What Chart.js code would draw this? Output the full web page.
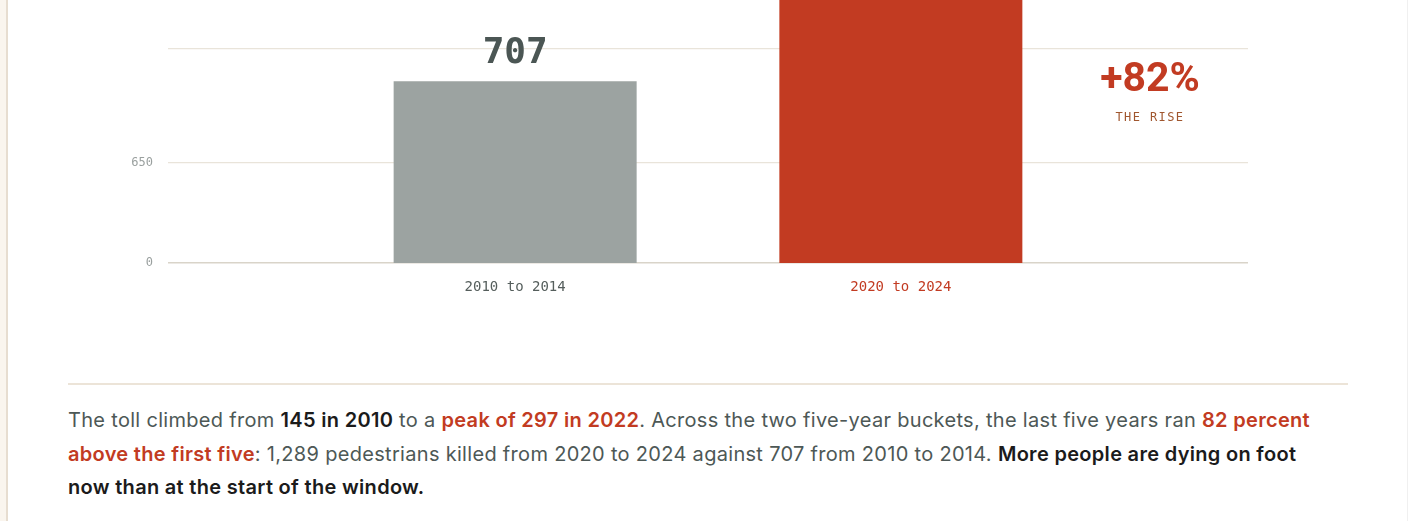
<!DOCTYPE html>
<html>
<head>
<meta charset="utf-8">
<script src="https://cdn.jsdelivr.net/npm/chart.js@4.4.1/dist/chart.umd.min.js"></script>
<style>
  html, body { margin: 0; padding: 0; background: #ffffff; width: 1408px; height: 521px; overflow: hidden; }
  #strip { position: absolute; left: 0; top: 0; width: 6px; height: 521px; background: #faf5ee; border-right: 2px solid #e7ddd0; }
  #redge { position: absolute; left: 1407px; top: 0; width: 1px; height: 521px; background: #f0f0f0; }
  #chartWrap { position: absolute; left: 0; top: 0; width: 1408px; height: 310px; }
  #rise { position: absolute; left: 1050px; width: 200px; top: 52px; text-align: center; }
  #riseNum { font-family: Roboto, "Noto Sans", sans-serif; font-weight: 700; font-size: 41px; line-height: 50px; color: #c23b22; }
  #riseLbl { font-family: "DejaVu Sans Mono", monospace; font-size: 12px; letter-spacing: 1.4px; color: #a0562e; margin-top: 8px; }
  #divider { position: absolute; left: 68px; top: 383px; width: 1280px; height: 2px; background: #ece4d8; }
  #para { position: absolute; left: 68px; top: 404px; font-family: Inter, "Noto Sans", sans-serif; font-size: 20px; line-height: 33.5px; color: #4d5856; white-space: nowrap; }
  #para .ln { display: block; }
  #para .ln span.m { display: inline-block; }
  #para b { color: #1b1b1b; font-weight: 600; }
  #para .r { color: #c23b22; font-weight: 600; }
</style>
</head>
<body>
<div id="strip"></div>
<div id="redge"></div>
<div id="chartWrap"><canvas id="c"></canvas></div>
<div id="rise"><div id="riseNum"></div><div id="riseLbl">THE RISE</div></div>
<div id="divider"></div>
<div id="para"><span class="ln"><span class="m" id="l1">The toll climbed from <b>145 in 2010</b> to a <span class="r">peak of 297 in 2022</span>. Across the two five-year buckets, the last five years ran <span class="r">82 percent</span></span></span><span class="ln"><span class="m"><span class="r">above the first five</span>: 1,289 pedestrians killed from 2020 to 2024 against 707 from 2010 to 2014. <b>More people are dying on foot</b></span></span><span class="ln"><span class="m"><b>now than at the start of the window.</b></span></span></div>
<script>
// ---- data ----
const categories = ['2010 to 2014', '2020 to 2024'];
const deaths = [707, 1289];
const yTickValues = [0, 650];
const yAxisTop = 1392;      // visible axis top (max * 1.08)
const barAxisTop = 833;     // axis the bars are drawn against
const barColors = ['#9ca3a1', '#c23b22'];
const labelColors = ['#4b5654', '#c23b22'];
const tickColors = ['#555e5c', '#c23b22'];

const rise = Math.round((deaths[1] - deaths[0]) / deaths[0] * 100);
document.getElementById('riseNum').textContent = '+' + rise + '%';

// fit paragraph first line to the reference measure
(function () {
  const para = document.getElementById('para');
  const l1 = document.getElementById('l1');
  const target = 1242;
  const n = l1.textContent.length;
  const w = l1.getBoundingClientRect().width;
  para.style.letterSpacing = ((target - w) / n).toFixed(3) + 'px';
})();

const valueLabels = {
  id: 'valueLabels',
  afterDatasetsDraw(chart) {
    const ctx = chart.ctx;
    const meta = chart.getDatasetMeta(0);
    ctx.save();
    ctx.font = 'bold 36px "DejaVu Sans Mono", monospace';
    ctx.textAlign = 'center';
    ctx.textBaseline = 'alphabetic';
    meta.data.forEach((bar, i) => {
      ctx.fillStyle = labelColors[i];
      ctx.fillText(String(deaths[i]), bar.x, bar.y - 18);
    });
    ctx.restore();
  }
};

new Chart(document.getElementById('c'), {
  type: 'bar',
  data: {
    datasets: [{
      data: deaths.map((v, i) => ({ x: i, y: v })),
      backgroundColor: barColors,
      borderWidth: 0,
      barPercentage: 0.7,
      categoryPercentage: 0.9,
      yAxisID: 'yb',
      clip: false
    }]
  },
  options: {
    responsive: true,
    maintainAspectRatio: false,
    animation: false,
    layout: { padding: { left: 100, right: 160, top: 49, bottom: 0 } },
    plugins: { legend: { display: false }, tooltip: { enabled: false } },
    scales: {
      x: {
        type: 'linear',
        offset: false,
        min: -0.9,
        max: 1.9,
        afterBuildTicks: s => { s.ticks = categories.map((c, i) => ({ value: i })); },
        afterFit: s => { s.height = 47; },
        grid: { display: false, drawTicks: false, offset: false },
        border: { display: false },
        ticks: {
          padding: 16,
          font: { family: '"DejaVu Sans Mono", monospace', size: 14 },
          color: ctx => tickColors[ctx.index] || '#555',
          callback: v => categories[v]
        }
      },
      y: {
        min: 0,
        max: yAxisTop,
        afterBuildTicks: s => { s.ticks = yTickValues.concat([yAxisTop]).map(v => ({ value: v })); },
        afterFit: s => { s.width = 68; },
        border: { display: false },
        grid: {
          drawTicks: false,
          color: ctx => ctx.tick && ctx.tick.value === 0 ? '#d9d4c9' : '#e9e4da',
          lineWidth: ctx => ctx.tick && ctx.tick.value === 0 ? 1.6 : 1.2
        },
        ticks: {
          padding: 15,
          font: { family: '"DejaVu Sans Mono", monospace', size: 12 },
          color: '#9aa09f',
          callback: v => yTickValues.includes(v) ? String(v) : ''
        }
      },
      yb: {
        display: false,
        min: 0,
        max: barAxisTop
      }
    }
  },
  plugins: [valueLabels]
});
</script>
</body>
</html>
